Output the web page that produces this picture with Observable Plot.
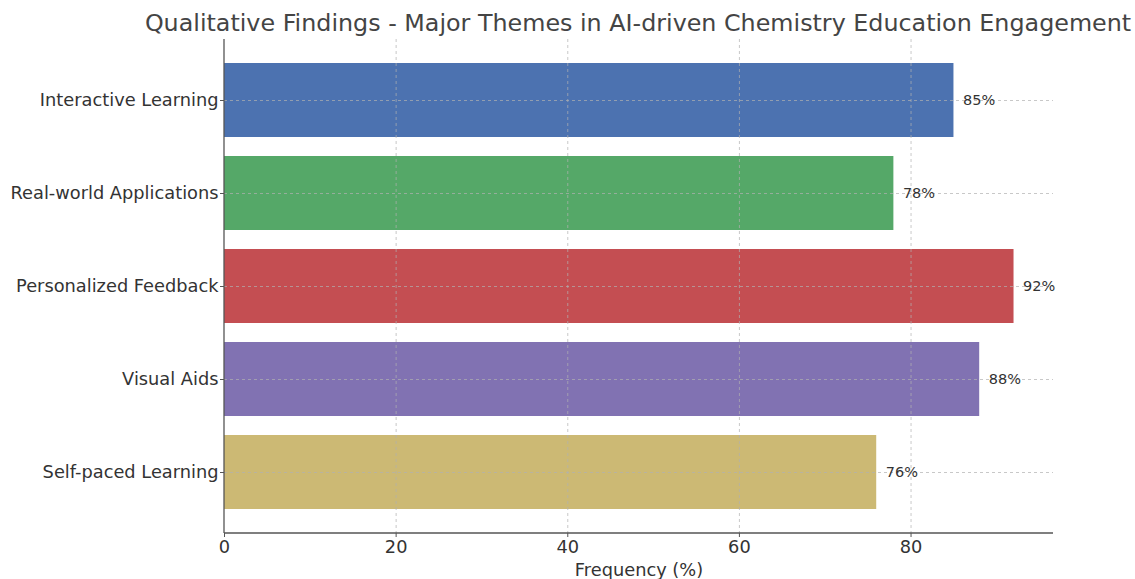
<!DOCTYPE html>
<html><head><meta charset="utf-8">
<script src="https://cdn.jsdelivr.net/npm/d3@7"></script>
<script src="https://cdn.jsdelivr.net/npm/@observablehq/plot@0.6"></script>
<style>
body{margin:0;background:#fff;font-family:"DejaVu Sans",sans-serif;overflow:hidden;}
#wrap{position:relative;width:1135px;height:579px;}
#title{position:absolute;z-index:2;left:638px;top:8px;transform:translateX(-50%);white-space:nowrap;font-size:23.8px;color:#444;line-height:30px;}
#chart{position:absolute;z-index:1;left:0;top:0;}
</style></head><body>
<div id="wrap"><div id="title">Qualitative Findings - Major Themes in AI-driven Chemistry Education Engagement</div><div id="chart"></div></div>
<script>
const themes = ["Interactive Learning","Real-world Applications","Personalized Feedback","Visual Aids","Self-paced Learning"];
const frequencies = [85, 78, 92, 88, 76];
const barColors = ["#4c72b0","#55a868","#c44e52","#8172b2","#ccb974"];
const xTicks = [0, 20, 40, 60, 80];

const data = themes.map((t, i) => ({theme: t, value: frequencies[i]}));

const spines = (index, scales, values, dims) => {
  const g = d3.create("svg:g");
  const l = dims.marginLeft, r = dims.width - dims.marginRight, t = dims.marginTop, b = dims.height - dims.marginBottom;
  g.append("line").attr("x1", l).attr("x2", l).attr("y1", t).attr("y2", b).attr("stroke", "#555").attr("stroke-width", 1.3);
  g.append("line").attr("x1", l).attr("x2", r).attr("y1", b).attr("y2", b).attr("stroke", "#555").attr("stroke-width", 1.3);
  return g.node();
};

const chart = Plot.plot({
  width: 1135,
  height: 579,
  marginTop: 39,
  marginLeft: 224,
  marginRight: 82,
  marginBottom: 46,
  style: {fontFamily: "DejaVu Sans, sans-serif", color: "#333", background: "transparent"},
  x: {domain: [0, 96.6]},
  y: {domain: themes, paddingInner: 0.2, paddingOuter: 0.24},
  color: {domain: themes, range: barColors},
  marks: [
    Plot.barX(data, {x: "value", y: "theme", fill: "theme"}),
    Plot.gridX({ticks: [20, 40, 60, 80], stroke: "#b0b0b0", strokeOpacity: 0.7, strokeDasharray: "3,3"}),
    Plot.gridY({stroke: "#b0b0b0", strokeOpacity: 0.7, strokeDasharray: "3,3"}),
    Plot.text(data, {x: "value", y: "theme", text: d => d.value + "%", dx: 9, textAnchor: "start", fontSize: 14.5, fill: "#333"}),
    Plot.axisY({tickSize: 4, tickPadding: 2, fontSize: 17.8, label: null, stroke: "#555"}),
    Plot.axisX({ticks: xTicks, tickSize: 4, tickPadding: 3, fontSize: 17.8, label: "Frequency (%)", labelAnchor: "center", labelArrow: "none", labelOffset: 42, stroke: "#555"}),
    spines
  ]
});
document.getElementById("chart").appendChild(chart);
</script>
</body></html>
